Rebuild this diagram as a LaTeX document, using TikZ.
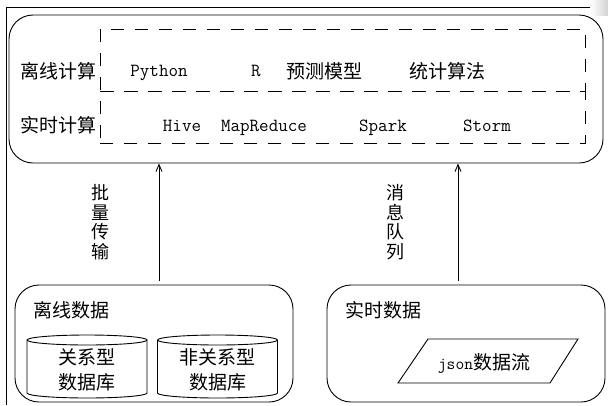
\documentclass[tikz,border=0pt]{standalone}
\usepackage{fontspec}
\setmainfont{Noto Sans CJK SC}
\usetikzlibrary{arrows.meta}

\begin{document}
\begin{tikzpicture}[
    x=1pt, y=-1pt,
    line width=.9pt,
    >={Straight Barb[length=7pt,width=6pt]},
    box/.style   = {draw, rounded corners=24pt},
    row/.style   = {draw, dash pattern=on 13pt off 11pt},
    txt/.style   = {inner sep=0pt, text height=16pt, text depth=2pt, font=\fontsize{19}{25}\selectfont},
    lat/.style   = {inner sep=0pt, text height=11.5pt, text depth=0pt, font=\fontsize{18.5}{25}\ttfamily},
    stack/.style = {inner sep=0pt, align=center, font=\fontsize{19}{25}\selectfont},
  ]
  \useasboundingbox (0,0) rectangle (608,405);

  % Rahmen
  \draw (6,405) -- (6,7) -- (590,7);
  \shade[left color=white, right color=gray!35, draw=none] (590,0) rectangle (608,15);

  % Pfeil-Lagen
  \coordinate (A1) at (159,0); % Batch
  \coordinate (A2) at (458,0); % Queue

  % Berechnung
  \node[box, minimum width=594, minimum height=148] (compute) at (306,89) {};
  \node[row, minimum width=485, minimum height=62] (offrow) at (342.5,60) {};
  \node[row, minimum width=485, minimum height=52] (rtrow) at (342.5,117) {};

  \node[txt, anchor=east] (offlab) at (97,71) {离线计算};
  \node[txt, anchor=east] (rtlab) at (97,125) {实时计算};

  \node[lat] (python) at (159,71) {Python};
  \node[lat] (rlang) at (256,71) {R};
  \node[txt] (model) at (324,71) {预测模型};
  \node[txt] (stat) at (447,71) {统计算法};

  \node[lat] (hive) at (182,126) {Hive};
  \node[lat] (mapred) at (264,126) {MapReduce};
  \node[lat] (spark) at (383,126) {Spark};
  \node[lat] (storm) at (487,126) {Storm};

  % Daten
  \node[box, minimum width=278, minimum height=117] (offline) at (154,343.5) {};
  \node[box, minimum width=278, minimum height=117] (realtime) at (466,343.5) {};

  \node[txt, anchor=west] (offtitle) at (33,310) {离线数据};
  \node[txt, anchor=west] (rttitle) at (345,310) {实时数据};

  % Zylinder
  \foreach \cx in {87,217.5} {
    \draw ({\cx-60},340) arc (180:540:60 and 5);
    \draw ({\cx-60},340) -- ({\cx-60},393) arc (180:0:60 and 5) -- ({\cx+60},340);
  }
  \node[stack] (reldb) at (87,370) {关系型\\数据库};
  \node[stack] (nosqldb) at (217.5,370) {非关系型\\数据库};

  % Datenstrom
  \coordinate (P1) at (398,383);
  \coordinate (P2) at (550,383);
  \coordinate (P3) at (578,339);
  \coordinate (P4) at (428,339);
  \draw (P1) -- (P2) -- (P3) -- (P4) -- cycle;
  \node[txt] (json) at (484,362) {{\fontsize{17}{20}\ttfamily json}数据流};

  % Pfeile
  \draw[->, shorten <=4pt] (offline.north -| A1) -- (compute.south -| A1);
  \draw[->, shorten <=4pt] (realtime.north -| A2) -- (compute.south -| A2);

  \node[stack, font=\fontsize{18}{19.5}\selectfont] (batch) at (100,222) {批\\量\\传\\输};
  \node[stack, font=\fontsize{18}{19.5}\selectfont] (queue) at (395,222) {消\\息\\队\\列};

\end{tikzpicture}
\end{document}
